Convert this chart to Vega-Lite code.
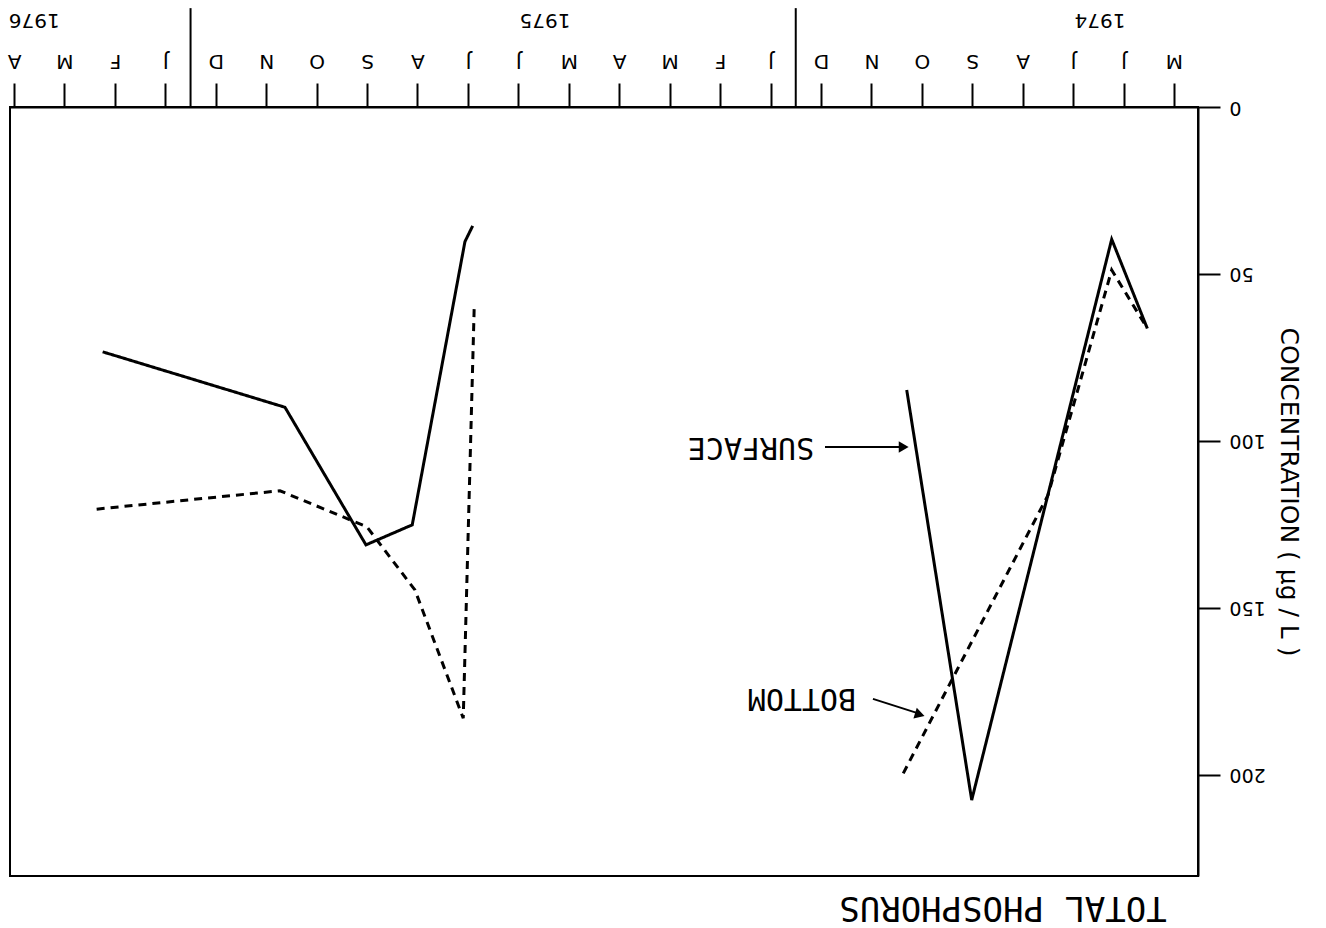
{
  "$schema": "https://vega.github.io/schema/vega-lite/v6.json",
  "width": 1188,
  "height": 769,
  "autosize": {"type": "none"},
  "padding": {"left": 10, "top": 107, "right": 128, "bottom": 52},
  "background": "white",
  "view": {"stroke": "black", "strokeWidth": 2},
  "datasets": {
    "lines": [
      {"series": "S74", "type": "Surface", "m": 0.529, "v": 66.3},
      {"series": "S74", "type": "Surface", "m": 1.235, "v": 39.6},
      {"series": "S74", "type": "Surface", "m": 4.011, "v": 207.5},
      {"series": "S74", "type": "Surface", "m": 5.30, "v": 84.7},
      {"series": "B74", "type": "Bottom", "m": 0.529, "v": 66.3},
      {"series": "B74", "type": "Bottom", "m": 1.235, "v": 48.8},
      {"series": "B74", "type": "Bottom", "m": 2.498, "v": 116.2},
      {"series": "B74", "type": "Bottom", "m": 5.368, "v": 199.5},
      {"series": "S75", "type": "Surface", "m": 13.906, "v": 35.6},
      {"series": "S75", "type": "Surface", "m": 14.059, "v": 40.3},
      {"series": "S75", "type": "Surface", "m": 15.104, "v": 125.1},
      {"series": "S75", "type": "Surface", "m": 16.022, "v": 131.1},
      {"series": "S75", "type": "Surface", "m": 17.628, "v": 89.9},
      {"series": "S75", "type": "Surface", "m": 21.243, "v": 73.3},
      {"series": "B75", "type": "Bottom", "m": 13.875, "v": 59.6},
      {"series": "B75", "type": "Bottom", "m": 14.093, "v": 183.0},
      {"series": "B75", "type": "Bottom", "m": 15.051, "v": 144.6},
      {"series": "B75", "type": "Bottom", "m": 16.003, "v": 125.7},
      {"series": "B75", "type": "Bottom", "m": 17.727, "v": 114.9},
      {"series": "B75", "type": "Bottom", "m": 21.362, "v": 120.4}
    ],
    "dividers": [
      {"m": 7.5, "v": -29.6, "v2": 0},
      {"m": 19.5, "v": -29.6, "v2": 0}
    ],
    "years": [
      {"label": "1974", "m": 1.467, "v": -26},
      {"label": "1975", "m": 12.47, "v": -26},
      {"label": "1976", "m": 22.6, "v": -26}
    ],
    "notes": [
      {"label": "SURFACE", "m": 8.388, "v": 101.8},
      {"label": "BOTTOM", "m": 7.377, "v": 176.9}
    ],
    "arrows": [
      {"m": 6.92, "m2": 5.45, "v": 101.8, "v2": 101.8},
      {"m": 5.969, "m2": 5.10, "v": 177.2, "v2": 181.4}
    ],
    "heads": [
      {"m": 5.36, "v": 101.8, "ang": 0},
      {"m": 5.04, "v": 181.9, "ang": 17}
    ],
    "title": [
      {"label": "TOTAL PHOSPHORUS", "m": 3.39, "v": 239.4}
    ]
  },
  "encoding": {
    "x": {
      "field": "m",
      "type": "quantitative",
      "scale": {"domain": [-0.476, 23.08], "reverse": true, "nice": false, "zero": false},
      "axis": {
        "orient": "top",
        "title": null,
        "grid": false,
        "values": [0,1,2,3,4,5,6,7,8,9,10,11,12,13,14,15,16,17,18,19,20,21,22,23],
        "labelExpr": "['M','J','J','A','S','O','N','D','J','F','M','A','M','J','J','A','S','O','N','D','J','F','M','A'][datum.value]",
        "labelAngle": 180,
        "labelAlign": "center",
        "labelBaseline": "middle",
        "labelPadding": 23,
        "labelFont": "DejaVu Sans",
        "labelFontSize": 20,
        "labelColor": "black",
        "labelOverlap": false,
        "labelFlush": false,
        "tickSize": 24,
        "tickWidth": 2,
        "tickColor": "black",
        "domainColor": "black",
        "domainWidth": 2
      }
    },
    "y": {
      "field": "v",
      "type": "quantitative",
      "scale": {"domain": [0, 230.24], "reverse": true, "nice": false, "zero": false},
      "axis": {
        "orient": "right",
        "grid": false,
        "values": [0, 50, 100, 150, 200],
        "labelAngle": 180,
        "labelAlign": "right",
        "labelBaseline": "middle",
        "labelPadding": 9,
        "labelFont": "DejaVu Sans",
        "labelFontSize": 19,
        "labelColor": "black",
        "labelOverlap": false,
        "labelFlush": false,
        "tickSize": 22,
        "tickWidth": 2,
        "tickColor": "black",
        "domainColor": "black",
        "domainWidth": 2,
        "title": "CONCENTRATION    ( µg / L )",
        "titleAngle": 90,
        "titleFont": "DejaVu Sans",
        "titleFontSize": 25,
        "titleFontWeight": "normal",
        "titleColor": "black",
        "titlePadding": 10
      }
    }
  },
  "layer": [
    {
      "data": {"name": "lines"},
      "mark": {"type": "line", "color": "black", "strokeWidth": 3, "clip": false},
      "encoding": {
        "detail": {"field": "series"},
        "strokeDash": {
          "field": "type",
          "type": "nominal",
          "scale": {"domain": ["Surface", "Bottom"], "range": [[1, 0], [8, 6]]},
          "legend": null
        }
      }
    },
    {
      "data": {"name": "dividers"},
      "mark": {"type": "rule", "color": "black", "strokeWidth": 2, "clip": false},
      "encoding": {"y2": {"field": "v2"}}
    },
    {
      "data": {"name": "years"},
      "mark": {"type": "text", "angle": 180, "font": "DejaVu Sans", "fontSize": 20, "align": "center", "baseline": "middle", "color": "black", "clip": false},
      "encoding": {"text": {"field": "label"}}
    },
    {
      "data": {"name": "notes"},
      "mark": {"type": "text", "angle": 180, "font": "DejaVu Sans Mono", "fontSize": 30, "align": "center", "baseline": "middle", "color": "black"},
      "encoding": {"text": {"field": "label"}}
    },
    {
      "data": {"name": "arrows"},
      "mark": {"type": "rule", "color": "black", "strokeWidth": 2},
      "encoding": {"x2": {"field": "m2"}, "y2": {"field": "v2"}}
    },
    {
      "data": {"name": "heads"},
      "mark": {"type": "point", "shape": "triangle-right", "filled": true, "color": "black", "size": 130, "opacity": 1},
      "encoding": {"angle": {"field": "ang", "type": "quantitative", "scale": null}}
    },
    {
      "data": {"name": "title"},
      "mark": {"type": "text", "angle": 180, "font": "DejaVu Sans Mono", "fontSize": 34, "align": "center", "baseline": "middle", "color": "black", "clip": false},
      "encoding": {"text": {"field": "label"}}
    }
  ]
}
